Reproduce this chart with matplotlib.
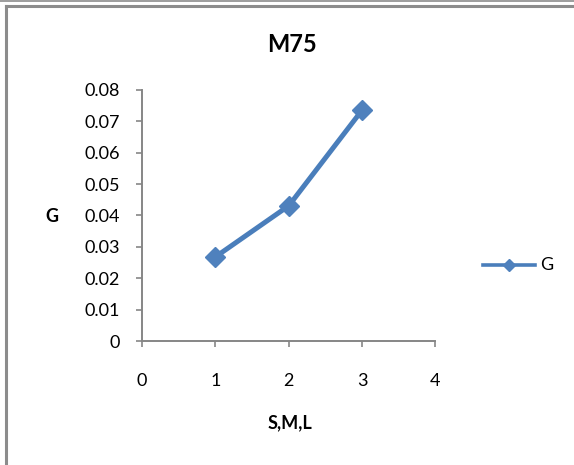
import matplotlib
matplotlib.use("Agg")
import matplotlib.pyplot as plt
from matplotlib.lines import Line2D

# Data
sizes = [1, 2, 3]
g_values = [0.0268, 0.0431, 0.0736]
x_ticks = [0, 1, 2, 3, 4]
y_ticks = [0, 0.01, 0.02, 0.03, 0.04, 0.05, 0.06, 0.07, 0.08]
y_tick_labels = ["0", "0.01", "0.02", "0.03", "0.04", "0.05", "0.06", "0.07", "0.08"]

W, H = 574, 465
plt.rcParams["font.family"] = ["Lato", "DejaVu Sans"]

fig = plt.figure(figsize=(W / 100, H / 100), dpi=100)
ax = fig.add_axes([142 / W, 1 - 341 / H, (435.5 - 142) / W, (341 - 90) / H])

blue = "#4A7EBB"
line, = ax.plot(sizes, g_values, color=blue, lw=3.6, marker="D", markersize=10,
                markerfacecolor="#4F81BD", markeredgecolor="#4F81BD", label="G",
                solid_joinstyle="round", clip_on=False)

ax.set_xlim(0, 4)
ax.set_ylim(0, 0.08)
ax.set_xticks(x_ticks)
ax.set_yticks(y_ticks)
ax.set_yticklabels(y_tick_labels)

axis_gray = "#868686"
for side in ("top", "right"):
    ax.spines[side].set_visible(False)
for side in ("left", "bottom"):
    ax.spines[side].set_color(axis_gray)
    ax.spines[side].set_linewidth(1.4)
ax.tick_params(axis="both", colors=axis_gray, length=4, width=1.2, labelsize=13,
               labelcolor="black")
ax.tick_params(axis="y", pad=12)
ax.tick_params(axis="x", pad=19)

fig.text(292 / W, 1 - 45 / H, "M75", ha="center", va="center", fontsize=17,
         fontweight="bold")
fig.text(52 / W, 1 - 216 / H, "G", ha="center", va="center", fontsize=13,
         fontweight="bold")
fig.text(290 / W, 1 - 423 / H, "S,M,L", ha="center", va="center", fontsize=13,
         fontweight="bold")

# Legend
lx0, lx1, ly = 483 / W, 535 / W, 1 - 265 / H
fig.add_artist(Line2D([lx0, lx1], [ly, ly], color=blue, lw=2.6,
                      transform=fig.transFigure))
fig.add_artist(Line2D([(lx0 + lx1) / 2], [ly], color="#4F81BD", marker="D",
                      markersize=6.5, lw=0, transform=fig.transFigure))
fig.text(540 / W, ly, "G", ha="left", va="center", fontsize=13)

# Chart frame
frame_gray = "#8c8c8c"
fig.add_artist(Line2D([0, 1], [1 - 0.8 / H, 1 - 0.8 / H], color=frame_gray, lw=1.2,
                      transform=fig.transFigure))
fig.add_artist(Line2D([5.5 / W, 1], [1 - 6 / H, 1 - 6 / H], color=frame_gray, lw=2.2,
                      transform=fig.transFigure))
fig.add_artist(Line2D([5.5 / W, 5.5 / W], [0, 1 - 6 / H], color=frame_gray, lw=2.2,
                      transform=fig.transFigure))

fig.savefig("out.png", dpi=100)
